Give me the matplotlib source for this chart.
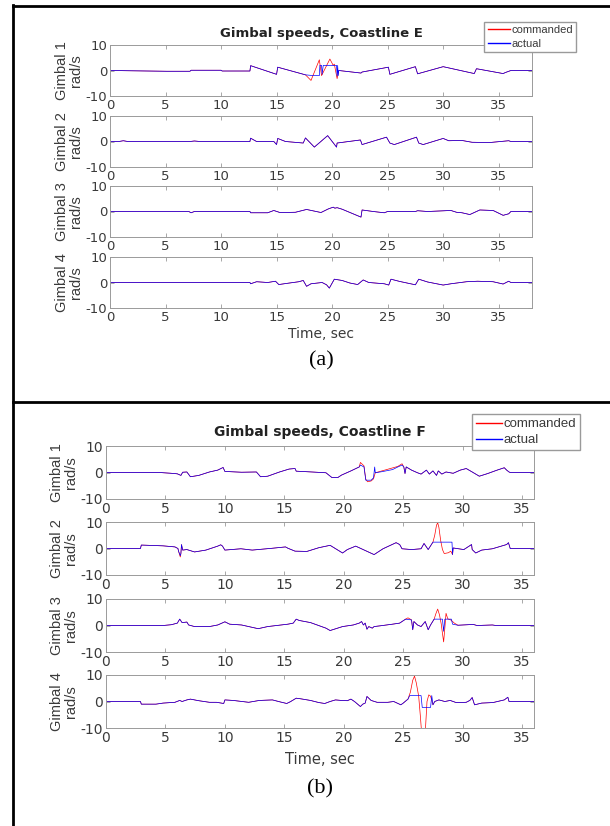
import numpy as np
import matplotlib
matplotlib.use("Agg")
import matplotlib.pyplot as plt
from matplotlib.lines import Line2D

plt.rcParams["axes.unicode_minus"] = False

# ---------------- data: Coastline E ----------------
E_xticks = [0, 5, 10, 15, 20, 25, 30, 35]
E_xmax = 38

E_g1_t = [0, 5.1, 7.2, 7.3, 10.0, 10.1, 12.6, 12.66, 15.0, 15.1, 17.6, 18.3, 18.85, 18.9, 19.05,
          19.1, 19.2, 20.4, 20.45, 20.5, 20.55, 20.6, 22.6, 22.7, 25.07, 25.2, 27.5, 27.7, 30.0,
          32.8, 33.0, 35.4, 35.6, 36.1, 38]
E_g1_v = [0, -0.3, -0.3, 0.1, 0.1, -0.2, -0.2, 1.9, -1.5, 1.3, -1.7, -2.0, -2.0, 2.0, 2.0,
          -1.5, 2.0, 2.0, -2.2, 2.0, -2.0, 0, -1.0, -0.6, 1.3, -1.5, 1.5, -1.3, 1.5,
          -1.2, 0.7, -1.2, -0.8, 0, 0]
E_g1_cmd_t = [17.6, 18.1, 18.85, 19.05, 19.8, 20.1, 20.2, 20.45, 20.6]
E_g1_cmd_v = [-1.7, -3.9, 4.2, -2.0, 4.5, 2.0, 2.5, -3.2, 0]

E_g2_t = [0, 0.8, 1.2, 1.6, 7.2, 7.6, 8.1, 12.6, 12.66, 13.2, 14.75, 15.0, 15.1, 15.8, 17.4,
          17.6, 18.4, 19.6, 20.4, 20.45, 22.55, 22.7, 24.9, 25.2, 25.6, 27.6, 27.8, 28.2, 30.0,
          30.5, 31.7, 32.6, 34.2, 35.9, 36.1, 38]
E_g2_v = [0, 0, 0.3, 0, 0, 0.2, 0, 0, 1.3, 0, 0, -1.2, 1.2, 0, -0.6,
          1.4, -2.2, 2.3, -2.2, -0.6, 0.6, -1.2, 1.7, -0.6, -1.2, 1.7, -0.6, -1.2, 1.2,
          0.3, 0.4, -0.3, -0.4, 0.3, 0, 0]

E_g3_t = [0, 7.1, 7.3, 7.6, 12.6, 12.66, 14.2, 14.75, 15.3, 16.7, 17.7, 19.0, 19.65, 20.1, 20.25,
          20.45, 20.9, 22.6, 22.7, 23.7, 24.7, 25.0, 27.5, 27.7, 28.6, 30.7, 31.2, 31.7, 32.4,
          33.3, 34.5, 35.4, 35.9, 36.1, 38]
E_g3_v = [0, 0, -0.5, 0, 0, -0.5, -0.5, 0.4, -0.4, -0.3, 0.8, -0.4, 1.0, 1.7, 1.3,
          1.5, 0.9, -2.2, 0.6, 0, -0.5, 0, 0, 0.3, 0, 0.4, -0.3, -0.5, -1.2,
          0.6, 0.4, -1.5, -0.9, 0, 0]

E_g4_t = [0, 12.6, 12.66, 13.2, 14.2, 14.9, 15.2, 16.0, 17.0, 17.4, 17.7, 18.1, 19.1, 19.5, 19.75,
          20.2, 20.9, 21.6, 22.3, 22.8, 23.3, 24.7, 25.1, 25.3, 26.1, 27.5, 27.8, 28.6, 30.0,
          30.7, 32.1, 33.1, 34.5, 35.4, 35.9, 36.1, 38]
E_g4_v = [0, 0, -0.5, 0.3, 0, 0.5, -0.8, -0.3, 0.3, 0.8, -1.5, -0.5, 0, -0.9, -2.2,
          1.3, 0.8, -0.2, -0.8, 1.0, 0, -0.5, -1.0, 1.3, 0.4, -0.9, 1.3, 0.2, -1.0,
          -0.5, 0.3, 0.5, 0.3, -0.6, 0.5, 0, 0]

# ---------------- data: Coastline F ----------------
F_xticks = [0, 5, 10, 15, 20, 25, 30, 35]
F_xmax = 36

F_g1_t = [0, 4.5, 5.5, 6.0, 6.3, 6.45, 6.8, 7.1, 7.8, 8.7, 9.4, 9.85, 10.0, 11.4, 12.65,
          13.0, 13.6, 14.6, 15.4, 15.9, 16.0, 17.3, 18.5, 19.0, 19.5, 19.8, 20.6, 21.3, 21.4,
          21.7, 21.85, 22.3, 22.5, 22.6, 22.65, 23.2, 24.1, 24.55, 24.9, 25.05, 25.15, 25.25,
          25.7, 26.2, 26.5, 26.95, 27.2, 27.5, 27.8, 27.95, 28.25, 28.6, 29.2, 29.8, 30.3,
          30.8, 31.4, 32.1, 32.9, 33.5, 33.7, 33.9, 34.0, 36]
F_g1_v = [0, 0, -0.3, -0.5, -1.1, 0.1, 0.2, -1.6, -1.1, 0.2, 0.9, 1.9, 0.4, 0.1, 0.2,
          -1.6, -1.4, 0.2, 1.3, 1.5, 0.5, 0.2, -0.1, -1.9, -1.9, -1.0, 0.6, 2.1, 2.8,
          2.1, -2.9, -2.9, -2.0, 2.1, -0.1, 0.3, 1.1, 2.1, 2.8, 2.1, -0.4, 2.1,
          0.9, -0.1, -0.6, 0.9, -0.6, 0.6, -1.1, 0.6, -0.6, 0.2, -0.3, 0.9, 1.5,
          0.2, -1.4, -0.4, 0.9, 1.8, 0.9, 0.2, 0, 0]
F_g1_cmd_t = [21.3, 21.4, 21.7, 21.85, 22.0, 22.3, 22.5, 22.65, 24.55, 24.9, 25.05]
F_g1_cmd_v = [2.1, 3.8, 2.5, -2.5, -3.5, -3.2, -2.4, -0.1, 2.3, 3.3, 2.1]

F_g2_t = [0, 2.9, 2.97, 4.8, 5.8, 6.05, 6.1, 6.25, 6.3, 6.35, 6.45, 6.8, 7.45, 8.4, 9.4,
          9.65, 9.8, 10.0, 11.35, 12.3, 14.0, 15.1, 15.3, 15.9, 16.9, 17.9, 18.85, 19.9, 20.3,
          21.0, 22.55, 23.3, 24.4, 24.7, 24.9, 25.7, 26.5, 26.75, 27.1, 27.5, 29.1, 29.15,
          29.2, 30.1, 30.75, 30.8, 31.1, 31.6, 32.5, 33.7, 33.85, 34.0, 36]
F_g2_v = [0, 0, 1.3, 1.0, 0.6, 0, -1.0, -2.7, -1.9, 1.5, -0.6, -0.4, -1.3, -0.6, 0.9,
          1.4, 0.9, -0.6, -0.1, -0.6, 0.1, 0.6, 0.1, -1.0, -1.1, 0.3, 1.2, -1.7, -0.4,
          0.9, -2.3, -0.1, 2.2, 1.5, -0.1, -0.4, -0.1, 1.9, -0.4, 2.4, 2.4, -2.3,
          0.2, -0.4, 1.5, -0.4, -1.7, -0.6, -0.1, 1.5, 2.2, 0, 0]
F_g2_cmd_t = [6.1, 6.25, 6.3]
F_g2_cmd_v = [-1.0, -3.2, -1.9]
F_g2_cmd2_t = [27.5, 27.65, 27.8, 27.9, 28.0, 28.15, 28.3, 28.45, 28.8, 29.0, 29.15]
F_g2_cmd2_v = [2.4, 5.0, 8.8, 9.7, 8.0, 3.0, -0.4, -1.9, -1.6, -1.0, -2.3]

F_g3_t = [0, 4.8, 5.5, 6.0, 6.2, 6.4, 6.8, 6.95, 7.45, 8.7, 9.4, 10.0, 10.4, 11.4, 12.8,
          13.6, 15.3, 15.75, 16.0, 16.25, 17.2, 18.5, 18.85, 19.2, 19.9, 20.8, 21.3, 21.5,
          21.65, 21.8, 21.95, 22.1, 22.4, 22.55, 23.1, 24.1, 24.7, 25.2, 25.7, 25.8, 25.9,
          26.2, 26.5, 26.85, 27.1, 27.3, 27.6, 28.3, 28.4, 28.5, 29.05, 29.15, 29.6, 30.9,
          31.2, 32.5, 32.8, 36]
F_g3_v = [0, 0, 0.3, 0.9, 2.4, 1.1, 1.3, 0.2, -0.4, -0.4, 0.2, 1.4, 0.5, 0.2, -1.2,
          -0.4, 0.5, 0.9, 2.4, 1.9, 1.1, -1.0, -1.9, -1.4, -0.4, 0.2, 0.9, 1.5,
          0.2, 0.9, -1.4, -0.4, -1.0, -0.4, -0.1, 0.5, 0.9, 2.4, 2.1, -1.6, 1.5,
          0.2, -0.4, 1.5, -1.6, 0.2, 2.4, 2.4, -2.2, 2.4, 2.4, 0.5, 0.1, 0.4,
          0, 0.2, 0, 0]
F_g3_cmd_t = [25.2, 25.4, 25.7]
F_g3_cmd_v = [2.4, 2.9, 2.1]
F_g3_cmd2_t = [27.6, 27.75, 27.9, 28.05, 28.2, 28.3, 28.4, 28.5, 28.6, 28.75, 29.0, 29.3]
F_g3_cmd2_v = [2.4, 4.5, 6.2, 4.0, 0.5, -3.0, -6.2, -1.0, 4.6, 2.5, 2.1, 0.9]

F_g4_t = [0, 2.9, 2.97, 4.2, 4.8, 5.8, 6.2, 6.4, 6.8, 7.1, 7.8, 8.7, 9.3, 9.9, 10.0,
          10.7, 12.0, 12.9, 14.0, 14.6, 15.2, 15.5, 16.0, 16.4, 17.2, 17.9, 18.4, 18.85,
          19.3, 19.8, 20.3, 20.6, 20.9, 21.4, 21.6, 21.8, 21.95, 22.3, 22.8, 23.7, 24.2,
          24.8, 25.0, 25.4, 25.55, 26.5, 26.6, 27.3, 27.4, 27.5, 27.65, 28.0, 28.5, 28.95,
          29.45, 30.3, 30.6, 30.8, 31.0, 31.6, 32.55, 33.5, 33.8, 33.9, 36]
F_g4_v = [0, 0, -1.0, -1.0, -0.6, -0.3, 0.4, 0, 0.6, 0.9, 0.3, -0.3, -0.3, -0.75, 0.6,
          0.4, -0.3, 0.4, 0.6, -0.1, -0.75, -0.1, 1.25, 1.0, 0.4, -0.4, -0.75, 0,
          0.6, 0.4, 0.3, 0.9, 0, -1.9, -1.0, -0.6, 1.9, 0.4, -0.3, -0.3, 0,
          -1.25, -0.6, 0.9, 2.25, 2.25, -2.25, -2.25, 2.25, -1.25, 0, 0.6, 0, 0.4,
          -0.4, -0.3, 0.4, 1.5, -1.25, -0.6, -0.4, 0.6, 1.6, 0, 0]
F_g4_cmd_t = [25.4, 25.6, 25.8, 25.95, 26.1, 26.3, 26.45, 26.55, 26.85, 27.0, 27.15, 27.3, 27.5]
F_g4_cmd_v = [0.9, 3.5, 8.0, 9.6, 7.0, 2.0, -6.0, -12.0, -12.0, 0, 2.5, 2.0, -1.25]

YLIM = (-10, 10)
YTICKS = [-10, 0, 10]
LEGEND_LABELS = ["commanded", "actual"]

# ---------------- helpers ----------------
W, H = 610, 826
fig = plt.figure(figsize=(W / 100, H / 100), dpi=100)
WIDE = ["DejaVu Sans"]                       # horizontal texts
NARROW = ["Liberation Sans", "DejaVu Sans"]  # rotated axis labels
SERIF = ["Liberation Serif", "DejaVu Serif"]
TXT = "#3a3a3a"
EDGE = "#9a9a9a"
RED = "#ff0000"
BLUE = "#0000ff"


def splice(t, v, *segments):
    """Replace stretches of a series with the points of other segments."""
    t = np.asarray(t, float)
    v = np.asarray(v, float)
    for st, sv in segments:
        st = np.asarray(st, float)
        sv = np.asarray(sv, float)
        keep = (t < st[0]) | (t > st[-1])
        t = np.concatenate([t[keep], st])
        v = np.concatenate([v[keep], sv])
        order = np.argsort(t, kind="stable")
        t, v = t[order], v[order]
    return t, v


def px_axes(left, top, right, bottom):
    return fig.add_axes([left / W, 1 - bottom / H, (right - left) / W, (bottom - top) / H])


def style(ax, xmax, xticks, tick_size):
    ax.set_xlim(0, xmax)
    ax.set_ylim(*YLIM)
    ax.set_xticks(xticks)
    ax.set_yticks(YTICKS)
    ax.tick_params(direction="in", length=3, width=0.6, top=True, right=True,
                   color=EDGE, labelcolor=TXT, labelsize=tick_size, pad=2)
    for lab in ax.get_xticklabels() + ax.get_yticklabels():
        lab.set_family(WIDE)
    for s in ax.spines.values():
        s.set_color(EDGE)
        s.set_linewidth(0.7)


def panel(series, tops, height, left, right, xmax, xticks, fs, title, title_y,
          legend_xy, legend_size, xlabel_y, tag, tag_y):
    for i, ((at, av, cmd_segments), top) in enumerate(zip(series, tops)):
        ax = px_axes(left, top, right, top + height)
        ct, cv = splice(at, av, *cmd_segments)
        ax.plot(ct, cv, color=RED, lw=0.5)
        ax.plot(at, av, color=BLUE, lw=0.5)
        style(ax, xmax, xticks, fs)
        ax.set_ylabel(f"Gimbal {i + 1}\nrad/s", fontsize=10.5, color=TXT,
                      family=NARROW, labelpad=2, linespacing=1.0)
    cx = (left + right) / 2 / W
    fig.text(cx, 1 - title_y / H, title, ha="center", va="center",
             fontsize=fs, fontweight="bold", color="#222222", family=WIDE)
    fig.text(cx, 1 - xlabel_y / H, "Time, sec", ha="center", va="center",
             fontsize=fs + 0.5, color=TXT, family=WIDE)
    fig.text(cx, 1 - tag_y / H, tag, ha="center", va="center",
             fontsize=16, color="black", family=SERIF)
    handles = [Line2D([], [], color=RED, lw=1.0), Line2D([], [], color=BLUE, lw=1.0)]
    fig.legend(handles, LEGEND_LABELS, loc="upper right",
               bbox_to_anchor=(legend_xy[0] / W, 1 - legend_xy[1] / H),
               prop={"family": NARROW, "size": legend_size}, frameon=True, fancybox=False,
               framealpha=1, edgecolor=EDGE, handlelength=2.0, handletextpad=0.1,
               borderpad=0.3, labelspacing=0.3, borderaxespad=0,
               labelcolor=TXT)


E_series = [
    (E_g1_t, E_g1_v, [(E_g1_cmd_t, E_g1_cmd_v)]),
    (E_g2_t, E_g2_v, []),
    (E_g3_t, E_g3_v, []),
    (E_g4_t, E_g4_v, []),
]
F_series = [
    (F_g1_t, F_g1_v, [(F_g1_cmd_t, F_g1_cmd_v)]),
    (F_g2_t, F_g2_v, [(F_g2_cmd_t, F_g2_cmd_v), (F_g2_cmd2_t, F_g2_cmd2_v)]),
    (F_g3_t, F_g3_v, [(F_g3_cmd_t, F_g3_cmd_v), (F_g3_cmd2_t, F_g3_cmd2_v)]),
    (F_g4_t, F_g4_v, [(F_g4_cmd_t, F_g4_cmd_v)]),
]

panel(E_series, [45, 116, 186, 257], 51, 110, 532, E_xmax, E_xticks, 9.5,
      "Gimbal speeds, Coastline E", 33, (576, 22), 8, 334, "(a)", 361)
panel(F_series, [446, 522, 599, 675], 53, 106, 534, F_xmax, F_xticks, 10,
      "Gimbal speeds, Coastline F", 432, (580, 414), 9.5, 759, "(b)", 789)

# frame lines around the two sub-figures
for xs, ys in [((13, 13), (5, 826)), ((13, 610), (6, 6)), ((13, 610), (402, 402))]:
    fig.add_artist(Line2D([x / W for x in xs], [1 - y / H for y in ys],
                          transform=fig.transFigure, color="black", lw=2.0))

fig.savefig("out.png", dpi=100)
